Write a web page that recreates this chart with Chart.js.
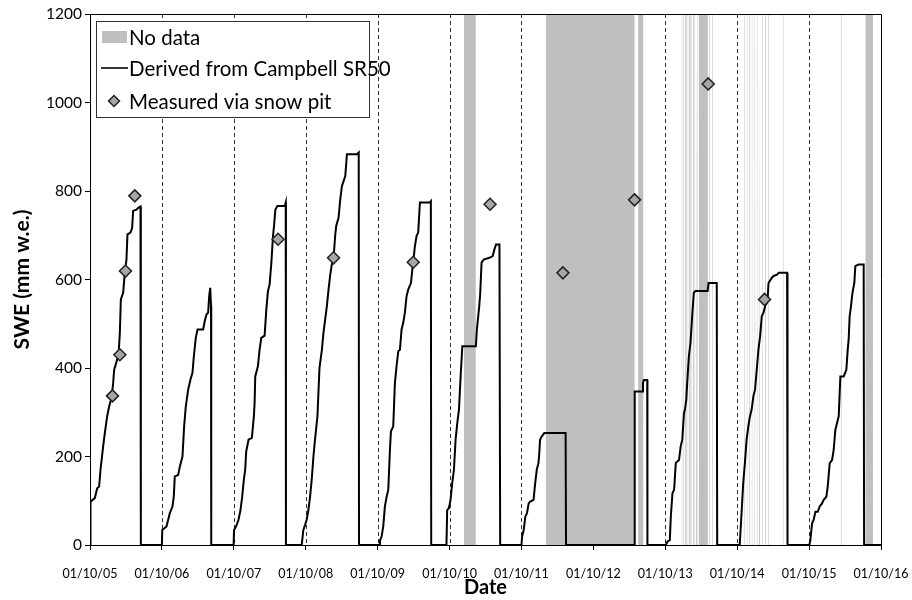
<!DOCTYPE html>
<html>
<head>
<meta charset="utf-8">
<script src="https://cdn.jsdelivr.net/npm/chart.js@4.4.1/dist/chart.umd.min.js"></script>
<style>
  body { margin: 0; background: #fff; }
  #wrap { width: 912px; height: 600px; }
</style>
</head>
<body>
<div id="wrap"><canvas id="sweChart" width="912" height="600"></canvas></div>
<script>
// x values are years since 01/10/05 (hydrological years), y values are SWE (mm w.e.)
const dateLabels = ['01/10/05', '01/10/06', '01/10/07', '01/10/08', '01/10/09', '01/10/10',
  '01/10/11', '01/10/12', '01/10/13', '01/10/14', '01/10/15', '01/10/16'];

// SR50 derived SWE, one array per winter: [year offset, swe]
const sr50_0506 = [[0,0],[0.007,98],[0.067,106],[0.1,128],[0.127,132],[0.146,170],[0.183,223],[0.206,253],[0.239,291],[0.266,313],[0.299,332],[0.322,366],[0.336,396],[0.378,419],[0.401,441],[0.415,479],[0.429,555],[0.461,570],[0.484,615],[0.507,645],[0.521,702],[0.563,706],[0.586,717],[0.6,755],[0.646,758],[0.67,762],[0.702,765],[0.707,0]];
const sr50_0607 = [[1.0,0],[1.005,34],[1.064,42],[1.087,57],[1.11,72],[1.147,87],[1.165,109],[1.179,155],[1.226,158],[1.249,177],[1.286,200],[1.309,268],[1.332,313],[1.365,351],[1.397,374],[1.425,389],[1.444,426],[1.471,468],[1.495,487],[1.573,487],[1.596,506],[1.62,521],[1.643,525],[1.657,562],[1.672,581],[1.683,540],[1.686,0]];
const sr50_0708 = [[1.997,0],[2.003,34],[2.032,42],[2.065,57],[2.093,79],[2.116,109],[2.139,147],[2.158,170],[2.172,211],[2.205,238],[2.251,242],[2.279,291],[2.289,321],[2.298,381],[2.335,404],[2.358,441],[2.382,468],[2.428,473],[2.452,532],[2.475,574],[2.498,589],[2.522,638],[2.545,698],[2.559,721],[2.578,758],[2.606,766],[2.709,766],[2.722,774],[2.725,0]];
const sr50_0809 = [[2.944,0],[2.967,34],[2.99,45],[3.013,57],[3.037,79],[3.06,109],[3.083,147],[3.107,200],[3.13,240],[3.163,291],[3.191,400],[3.224,440],[3.247,480],[3.294,540],[3.317,577],[3.34,610],[3.363,634],[3.387,649],[3.41,700],[3.424,721],[3.457,740],[3.48,781],[3.503,811],[3.55,834],[3.573,883],[3.713,883],[3.737,887],[3.741,0]];
const sr50_0910 = [[4.025,0],[4.032,10],[4.055,19],[4.078,42],[4.101,87],[4.125,109],[4.148,125],[4.171,215],[4.185,257],[4.217,268],[4.24,366],[4.263,404],[4.287,438],[4.31,441],[4.333,487],[4.356,502],[4.379,525],[4.402,562],[4.425,577],[4.463,592],[4.481,620],[4.495,639],[4.518,675],[4.541,698],[4.564,706],[4.588,774],[4.726,774],[4.74,777],[4.745,0]];
const sr50_1011 = [[4.957,0],[4.967,79],[4.99,83],[5.014,102],[5.037,140],[5.061,170],[5.084,238],[5.107,275],[5.131,306],[5.154,381],[5.178,449],[5.366,449],[5.38,487],[5.413,540],[5.427,570],[5.445,638],[5.474,645],[5.554,649],[5.6,653],[5.624,668],[5.647,679],[5.694,679],[5.704,0]];
const sr50_1112 = [[6.0,0],[6.009,19],[6.031,34],[6.054,64],[6.077,72],[6.1,94],[6.122,98],[6.168,102],[6.191,140],[6.213,170],[6.236,185],[6.245,200],[6.259,238],[6.281,245],[6.318,253],[6.614,253],[6.62,0]];
const sr50_1213 = [[7.573,0],[7.575,347],[7.688,347],[7.69,366],[7.702,373],[7.749,373],[7.752,0]];
const sr50_1314 = [[8.009,0],[8.032,8],[8.063,11],[8.077,64],[8.1,117],[8.123,125],[8.146,185],[8.168,189],[8.191,192],[8.214,223],[8.237,238],[8.26,298],[8.274,306],[8.292,328],[8.305,366],[8.328,426],[8.351,457],[8.374,517],[8.397,570],[8.42,574],[8.589,574],[8.602,592],[8.716,592],[8.722,0]];
const sr50_1415 = [[9.035,0],[9.061,72],[9.084,140],[9.107,185],[9.131,238],[9.155,268],[9.178,291],[9.201,306],[9.225,336],[9.248,351],[9.272,396],[9.295,441],[9.319,472],[9.342,517],[9.366,525],[9.389,540],[9.413,547],[9.425,560],[9.436,592],[9.483,604],[9.507,608],[9.554,611],[9.577,615],[9.694,615],[9.7,0]];
const sr50_1516 = [[10.004,0],[10.018,11],[10.041,49],[10.064,57],[10.088,75],[10.12,75],[10.148,87],[10.18,94],[10.203,102],[10.24,109],[10.259,132],[10.287,185],[10.319,192],[10.342,215],[10.365,260],[10.388,275],[10.412,291],[10.435,381],[10.481,381],[10.518,396],[10.537,441],[10.55,464],[10.564,517],[10.583,540],[10.597,562],[10.611,577],[10.629,592],[10.643,630],[10.689,634],[10.759,634],[10.765,0],[11,0]];

// snow pit measurements
const pitDates = [0.313, 0.415, 0.493, 0.623, 2.615, 3.387, 4.495, 5.563, 6.577, 7.573, 8.597, 9.38];
const pitSwe = [337, 430, 619, 789, 691, 649, 639, 770, 615, 780, 1042, 555];

// periods without SR50 data
const noDataStart = [5.201, 6.336, 7.622, 8.227, 8.251, 8.274, 8.292, 8.31, 8.329, 8.347, 8.364, 8.388, 8.405, 8.429, 8.447, 8.466, 8.611, 8.648,
  9.099, 9.131, 9.163, 9.201, 9.239, 9.272, 9.304, 9.342, 9.389, 9.427, 9.634, 10.442, 10.782];
const noDataEnd = [5.366, 7.575, 7.697, 8.239, 8.263, 8.286, 8.304, 8.322, 8.341, 8.359, 8.376, 8.4, 8.417, 8.441, 8.459, 8.593, 8.623, 8.66,
  9.111, 9.143, 9.175, 9.213, 9.251, 9.284, 9.316, 9.354, 9.401, 9.439, 9.646, 10.454, 10.889];

const GRAY = '#bfbfbf';
const FONT = 'Lato, "Open Sans", sans-serif';
Chart.defaults.font.family = FONT;
Chart.defaults.color = '#000';

const sr50 = [].concat(sr50_0506, sr50_0607, sr50_0708, sr50_0809, sr50_0910, sr50_1011,
  sr50_1112, sr50_1213, sr50_1314, sr50_1415, sr50_1516).map(p => ({ x: p[0], y: p[1] }));
const pits = pitDates.map((d, i) => ({ x: d, y: pitSwe[i] }));
const noData = [];
noDataStart.forEach((s, i) => {
  noData.push({ x: s, y: 1200 }, { x: noDataEnd[i], y: 1200 }, { x: noDataEnd[i], y: null });
});

// dashed year lines, outer frame and the boxed legend
const framePlugin = {
  id: 'frame',
  beforeDatasetsDraw(chart) {
    const { ctx, chartArea: a } = chart;
    const x = chart.scales.x;
    ctx.save();
    ctx.strokeStyle = '#333';
    ctx.lineWidth = 1;
    ctx.setLineDash([4, 3]);
    for (let i = 1; i < dateLabels.length - 1; i++) {
      const px = Math.round(x.getPixelForValue(i)) + 0.5;
      ctx.beginPath();
      ctx.moveTo(px, a.top);
      ctx.lineTo(px, a.bottom);
      ctx.stroke();
    }
    ctx.restore();
  },
  afterDraw(chart) {
    const { ctx, chartArea: a } = chart;
    ctx.save();
    ctx.strokeStyle = '#000';
    ctx.lineWidth = 1;
    ctx.beginPath();
    ctx.moveTo(a.left, Math.round(a.top) + 0.5);
    ctx.lineTo(Math.round(a.right) + 0.5, Math.round(a.top) + 0.5);
    ctx.lineTo(Math.round(a.right) + 0.5, a.bottom);
    ctx.stroke();

    // legend
    const lx = Math.round(a.left) + 6, ly = Math.round(a.top) + 7, lw = 273, lh = 96;
    ctx.fillStyle = '#fff';
    ctx.fillRect(lx, ly, lw, lh);
    ctx.strokeStyle = '#333';
    ctx.strokeRect(lx + 0.5, ly + 0.5, lw, lh);
    ctx.font = '20.5px ' + FONT;
    ctx.textBaseline = 'middle';
    const tx = lx + 33;
    const rows = [ly + 16, ly + 47, ly + 80];
    ctx.fillStyle = GRAY;
    ctx.fillRect(lx + 6, rows[0] - 6, 25, 12);
    ctx.strokeStyle = '#000';
    ctx.lineWidth = 1.6;
    ctx.beginPath();
    ctx.moveTo(lx + 5, rows[1]);
    ctx.lineTo(lx + 32, rows[1]);
    ctx.stroke();
    const dx = lx + 18, dy = rows[2], r = 5.5;
    ctx.beginPath();
    ctx.moveTo(dx, dy - r); ctx.lineTo(dx + r, dy); ctx.lineTo(dx, dy + r); ctx.lineTo(dx - r, dy); ctx.closePath();
    ctx.fillStyle = '#a6a6a6';
    ctx.fill();
    ctx.lineWidth = 1.5;
    ctx.strokeStyle = '#222';
    ctx.stroke();
    ctx.fillStyle = '#000';
    ctx.fillText('No data', tx, rows[0] + 1);
    ctx.fillText('Derived from Campbell SR50', tx, rows[1] + 1);
    ctx.fillText('Measured via snow pit', tx, rows[2] + 1);
    ctx.restore();
  }
};

const ctx = document.getElementById('sweChart').getContext('2d');
new Chart(ctx, {
  type: 'line',
  data: {
    datasets: [
      {
        label: 'Measured via snow pit',
        data: pits,
        showLine: false,
        pointStyle: 'rectRot',
        pointRadius: 6,
        pointBackgroundColor: '#a6a6a6',
        pointBorderColor: '#222',
        pointBorderWidth: 1.5,
        order: 1
      },
      {
        label: 'Derived from Campbell SR50',
        data: sr50,
        borderColor: '#000',
        borderWidth: 2,
        pointRadius: 0,
        tension: 0,
        fill: false,
        order: 2
      },
      {
        label: 'No data',
        data: noData,
        borderColor: 'transparent',
        borderWidth: 0,
        backgroundColor: GRAY,
        fill: 'origin',
        pointRadius: 0,
        spanGaps: false,
        order: 3
      }
    ]
  },
  options: {
    responsive: false,
    animation: false,
    devicePixelRatio: 1,
    layout: { padding: { top: 14, right: 31, left: 0, bottom: 0 } },
    plugins: { legend: { display: false }, tooltip: { enabled: false } },
    scales: {
      x: {
        type: 'linear',
        min: 0,
        max: 11,
        ticks: {
          stepSize: 1,
          autoSkip: false,
          maxRotation: 0,
          padding: 16,
          font: { size: 12.5 },
          callback: v => dateLabels[Math.round(v)]
        },
        grid: { drawOnChartArea: false, tickLength: 5, color: '#000' },
        border: { color: '#000', width: 1 },
        title: { display: true, text: 'Date', font: { size: 20, weight: 'bold' }, padding: { top: 0, bottom: 0 } },
        afterFit: s => { s.height = 55; s.paddingLeft = 0; s.paddingRight = 0; }
      },
      y: {
        min: 0,
        max: 1200,
        ticks: { stepSize: 200, padding: 3, font: { size: 15.5 }, callback: v => String(v) },
        grid: { drawOnChartArea: false, tickLength: 5, color: '#000' },
        border: { color: '#000', width: 1 },
        title: { display: true, text: 'SWE (mm w.e.)', font: { size: 21, weight: 'bold' }, padding: { top: 10, bottom: 0 } },
        afterFit: s => { s.width = 90; s.paddingTop = 0; s.paddingBottom = 0; }
      }
    }
  },
  plugins: [framePlugin]
});
</script>
</body>
</html>
